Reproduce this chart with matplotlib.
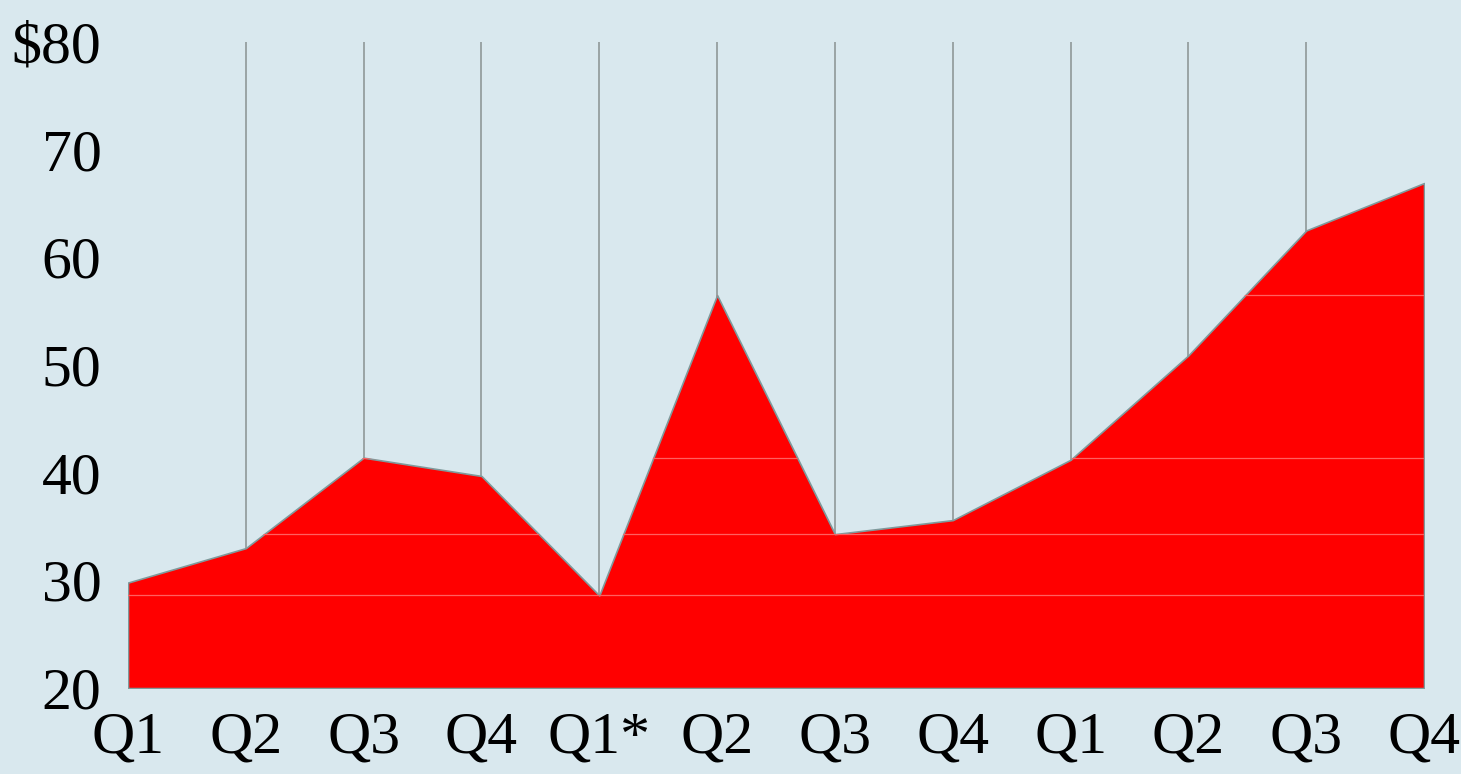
import matplotlib.pyplot as plt

# -----------------------------
# DATA
# -----------------------------
quarters = ["Q1", "Q2", "Q3", "Q4", "Q1*", "Q2", "Q3", "Q4", "Q1", "Q2", "Q3", "Q4"]
price = [29.8, 33.0, 41.4, 39.7, 28.6, 56.5, 34.3, 35.6, 41.2, 50.9, 62.5, 66.9]
y_ticks = [20, 30, 40, 50, 60, 70, 80]

bg = "#d9e8ee"
plt.rcParams['font.family'] = ['Liberation Serif', 'DejaVu Serif']

fig = plt.figure(figsize=(14.61, 7.74), dpi=100, facecolor=bg)
ax = fig.add_axes([0.0876, 0.111, 0.8871, 0.8347])
ax.set_facecolor(bg)

x = list(range(len(quarters)))

# vertical guide lines at inner quarters
ax.vlines(x[1:-1], 20, 80, color="#8f9898", linewidth=1.2, zorder=1)

# filled area
poly = ax.fill_between(x, 20, price, facecolor="#ff0000",
                       edgecolor="#7f9a9c", linewidth=1.2, zorder=2)

# faint banding lines inside the area
for v in [price[4], price[6], price[2], price[5]]:
    ln = ax.axhline(v, color="#ff6060", linewidth=0.9, zorder=3)
    ln.set_clip_path(poly.get_paths()[0], ax.transData)

ax.set_xlim(0, len(quarters) - 1)
ax.set_ylim(20, 80)
ax.set_xticks(x)
ax.set_xticklabels(quarters)
ax.set_yticks(y_ticks)
ax.set_yticklabels(["$80" if t == 80 else str(t) for t in y_ticks])
ax.tick_params(axis='both', length=0, labelsize=43, colors="black")
ax.tick_params(axis='y', pad=19)
ax.tick_params(axis='x', pad=17)
for lbl in ax.get_yticklabels():
    lbl.set_va('center_baseline')
for s in ax.spines.values():
    s.set_visible(False)

fig.savefig("out.png", dpi=100, facecolor=bg)
